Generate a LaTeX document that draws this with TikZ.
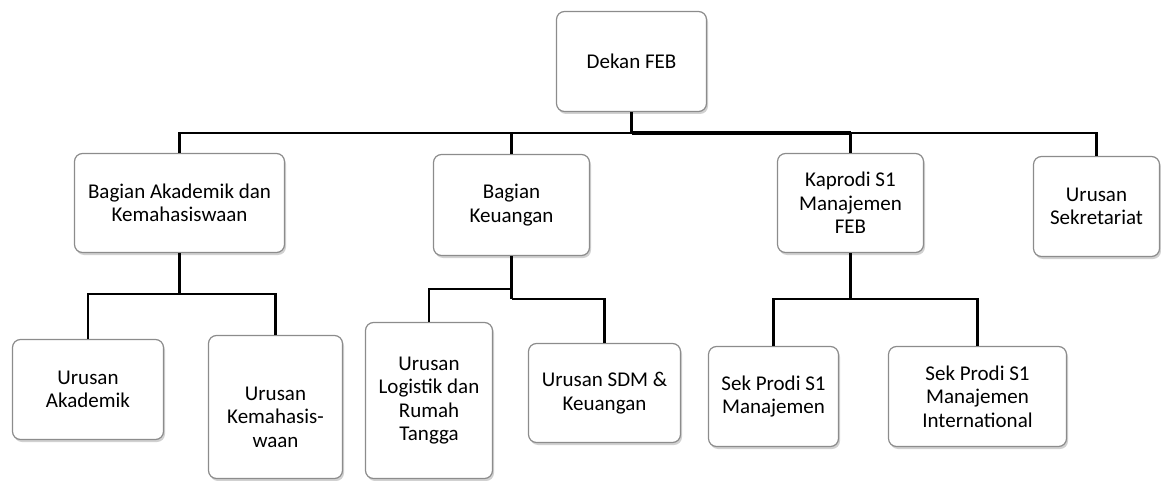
\documentclass[tikz,border=0pt]{standalone}
\usepackage{fontspec}
\setmainfont{Carlito}
\usetikzlibrary{shadows}
\begin{document}
\begin{tikzpicture}[x=1pt,y=-1pt,
  box/.style={draw=black!45, line width=1.2pt, fill=white, rounded corners=8pt,
    inner sep=0pt, align=center, font=\fontsize{21}{23.5}\selectfont,
    drop shadow={shadow xshift=1.5pt, shadow yshift=-2.5pt, opacity=0.3, fill=black!60}},
  link/.style={line width=2.6pt}]
\useasboundingbox (0,0) rectangle (1161,481);
\draw (631.5,61.5) node[box, minimum width=150pt, minimum height=100pt] (a) {Dekan FEB};
\draw (179.5,203) node[box, minimum width=210pt, minimum height=99pt] (b) {Bagian Akademik dan\\Kemahasiswaan};
\draw (511.5,205) node[box, minimum width=156pt, minimum height=101pt] (c) {Bagian\\Keuangan};
\draw (850.5,203) node[box, minimum width=146pt, minimum height=99pt] (d) {Kaprodi S1\\Manajemen\\FEB};
\draw (1096.5,206.5) node[box, minimum width=126pt, minimum height=100pt] (e) {Urusan\\Sekretariat};
\draw (88,389.5) node[box, minimum width=151pt, minimum height=100pt] (f) {Urusan\\Akademik};
\draw (275.5,407) node[box, minimum width=134pt, minimum height=143pt] (g) {\rule{0pt}{34pt}Urusan\\Kemahasis-\\waan};
\draw (429,400.5) node[box, minimum width=127pt, minimum height=156pt] (h) {Urusan\\Logistik dan\\Rumah\\Tangga};
\draw (604.5,393) node[box, minimum width=152pt, minimum height=99pt] (i) {Urusan SDM \&\\Keuangan};
\draw (773.5,396.5) node[box, minimum width=130pt, minimum height=100pt] (j) {Sek Prodi S1\\Manajemen};
\draw (977.5,396.5) node[box, minimum width=178pt, minimum height=100pt] (k) {Sek Prodi S1\\Manajemen\\International};
% bus points
\coordinate (p) at (631.5,133);
\coordinate (pd) at (850.5,133);
\coordinate (q) at (179.5,294);
\coordinate (r1) at (511.5,289);
\coordinate (r2) at (511.5,299);
\coordinate (s) at (850.5,299);
\draw[link] (a) -- (p);
\draw[link] (p) -| (b);
\draw[link] (p) -| (c);
\draw[link, line width=3.6pt] (p) -- (pd);
\draw[link] (pd) -- (d);
\draw[link] (pd) -| (e);
\draw[link] (b) -- (q);
\draw[link] (q) -| (f);
\draw[link] (q) -| (g);
\draw[link] (c) -- (r2);
\draw[link] (r1) -| (h);
\draw[link] (r2) -| (i);
\draw[link] (d) -- (s);
\draw[link] (s) -| (j);
\draw[link] (s) -| (k);
\end{tikzpicture}
\end{document}
